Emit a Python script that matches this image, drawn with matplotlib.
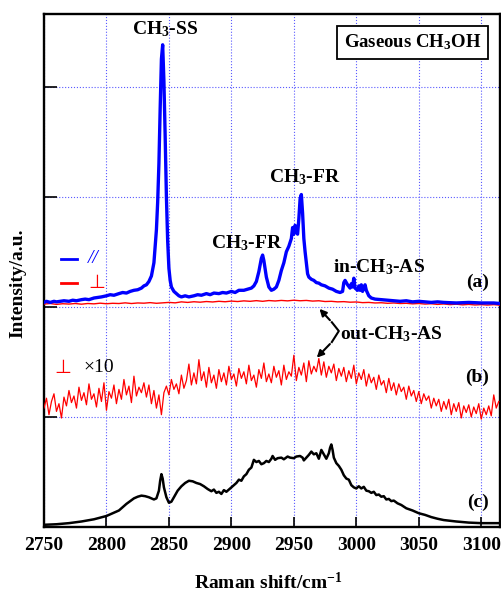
import numpy as np
import matplotlib
matplotlib.use('Agg')
import matplotlib.pyplot as plt

plt.rcParams['font.family'] = ['Liberation Serif', 'DejaVu Sans']
plt.rcParams['mathtext.fontset'] = 'custom'
plt.rcParams['mathtext.rm'] = 'Liberation Serif:bold'
plt.rcParams['mathtext.bf'] = 'Liberation Serif:bold'
plt.rcParams['mathtext.default'] = 'rm'

# (a) parallel polarisation, blue
par_x = [2750, 2752, 2755, 2758, 2760, 2763, 2766, 2770, 2773, 2776, 2780, 2783, 2786, 2790, 2793, 2796,
         2800, 2803, 2806, 2810, 2813, 2816, 2819, 2822, 2825, 2828, 2830, 2832, 2834, 2836, 2838, 2840,
         2841, 2842, 2843, 2844, 2845, 2846, 2847, 2848, 2849, 2850, 2851, 2852, 2854, 2856, 2858, 2860,
         2863, 2866, 2870, 2873, 2876, 2880, 2883, 2886, 2890, 2893, 2896, 2900, 2903, 2906, 2910, 2913,
         2916, 2918, 2920, 2922, 2924, 2925, 2926, 2928, 2930, 2932, 2934, 2936, 2938, 2940, 2942, 2944,
         2946, 2948, 2949, 2950, 2951, 2952, 2953, 2954, 2955, 2956, 2957, 2958, 2959, 2960, 2961, 2962,
         2964, 2966, 2968, 2970, 2972, 2975, 2978, 2981, 2984, 2987, 2989, 2990, 2991, 2993, 2995, 2996,
         2997, 2998, 2999, 3001, 3002, 3003, 3004, 3005, 3006, 3007, 3008, 3010, 3012, 3015, 3020, 3025,
         3030, 3035, 3040, 3045, 3050, 3055, 3060, 3065, 3070, 3080, 3090, 3100, 3110, 3115]
par_y = [2.04, 2.05, 2.04, 2.05, 2.045, 2.05, 2.055, 2.05, 2.06, 2.055, 2.065, 2.07, 2.065, 2.08, 2.085, 2.09,
         2.10, 2.11, 2.105, 2.12, 2.13, 2.125, 2.14, 2.15, 2.155, 2.17, 2.19, 2.20, 2.23, 2.28, 2.40, 2.70,
         2.95, 3.30, 3.80, 4.25, 4.38, 4.05, 3.55, 3.00, 2.60, 2.35, 2.24, 2.18, 2.14, 2.12, 2.10, 2.09,
         2.10, 2.09, 2.10, 2.11, 2.105, 2.12, 2.11, 2.125, 2.12, 2.13, 2.125, 2.14, 2.13, 2.15, 2.15, 2.16,
         2.17, 2.19, 2.23, 2.32, 2.44, 2.47, 2.42, 2.27, 2.18, 2.15, 2.16, 2.18, 2.24, 2.33, 2.40, 2.50,
         2.55, 2.62, 2.72, 2.66, 2.74, 2.68, 2.66, 2.80, 2.98, 3.02, 2.85, 2.62, 2.50, 2.40, 2.30, 2.27,
         2.25, 2.24, 2.22, 2.215, 2.20, 2.19, 2.17, 2.16, 2.14, 2.13, 2.14, 2.22, 2.24, 2.20, 2.17, 2.21,
         2.18, 2.26, 2.17, 2.15, 2.19, 2.15, 2.20, 2.14, 2.18, 2.20, 2.15, 2.10, 2.08, 2.07, 2.065, 2.06,
         2.055, 2.05, 2.055, 2.045, 2.05, 2.045, 2.04, 2.045, 2.04, 2.035, 2.04, 2.035, 2.035, 2.03]

# (a) perpendicular polarisation, red
perp_x = list(range(2750, 3116, 5))
perp_y = [2.025, 2.03, 2.022, 2.028, 2.025, 2.03, 2.024, 2.03, 2.027, 2.033, 2.028, 2.032, 2.03, 2.036,
          2.03, 2.035, 2.033, 2.038, 2.032, 2.036, 2.04, 2.036, 2.045, 2.04, 2.046, 2.042, 2.048, 2.044,
          2.05, 2.046, 2.052, 2.048, 2.054, 2.05, 2.056, 2.05, 2.057, 2.053, 2.058, 2.054, 2.06, 2.055,
          2.058, 2.052, 2.055, 2.048, 2.05, 2.045, 2.047, 2.042, 2.044, 2.038, 2.04, 2.035, 2.037, 2.032,
          2.035, 2.03, 2.032, 2.027, 2.03, 2.025, 2.028, 2.022, 2.026, 2.02, 2.024, 2.018, 2.022, 2.017,
          2.02, 2.016, 2.02, 2.015]

# (b) perpendicular x10, red
perp10_x = np.arange(2750, 3115, 2)
perp10_y = [1.08, 1.17, 1.02, 1.14, 1.21, 1.05, 1.12, 0.99, 1.18, 1.10,
            1.24, 1.13, 1.19, 1.08, 1.27, 1.15, 1.22, 1.11, 1.30, 1.16,
            1.21, 1.09, 1.26, 1.14, 1.31, 1.06, 1.23, 1.17, 1.29, 1.12,
            1.25, 1.16, 1.34, 1.20, 1.28, 1.13, 1.37, 1.19, 1.27, 1.22,
            1.31, 1.18, 1.29, 1.12, 1.24, 1.08, 1.20, 1.02, 1.22, 1.28,
            1.20, 1.34, 1.25, 1.30, 1.21, 1.38, 1.26, 1.33, 1.48, 1.29,
            1.40, 1.30, 1.52, 1.33, 1.41, 1.27, 1.45, 1.31, 1.38, 1.26,
            1.43, 1.32, 1.40, 1.29, 1.46, 1.34, 1.39, 1.28, 1.44, 1.35,
            1.41, 1.30, 1.47, 1.33, 1.38, 1.27, 1.43, 1.35, 1.49, 1.32,
            1.39, 1.31, 1.46, 1.36, 1.42, 1.29, 1.47, 1.34, 1.41, 1.37,
            1.56, 1.33, 1.45, 1.38, 1.49, 1.32, 1.51, 1.39, 1.46, 1.41,
            1.53, 1.38, 1.50, 1.36, 1.46, 1.40, 1.48, 1.33, 1.44, 1.37,
            1.45, 1.32, 1.42, 1.35, 1.47, 1.30, 1.40, 1.34, 1.43, 1.28,
            1.39, 1.31, 1.36, 1.25, 1.38, 1.29, 1.33, 1.22, 1.35, 1.24,
            1.31, 1.20, 1.30, 1.23, 1.27, 1.16, 1.28, 1.19, 1.24, 1.14,
            1.23, 1.12, 1.21, 1.15, 1.19, 1.08, 1.17, 1.10, 1.16, 1.05,
            1.14, 1.07, 1.16, 1.02, 1.12, 1.05, 1.13, 0.99, 1.10, 1.04,
            1.11, 1.00, 1.09, 1.03, 1.12, 0.98, 1.08, 1.02, 1.10, 1.01,
            1.20, 1.08, 1.14]

# (c) black spectrum
c_x = [2750, 2760, 2770, 2780, 2790, 2795, 2800, 2805, 2810, 2813, 2816, 2819, 2822, 2825, 2828, 2831,
       2834, 2836, 2838, 2840, 2842, 2843, 2844, 2845, 2846, 2848, 2850, 2852, 2854, 2857, 2860, 2863,
       2866, 2869, 2872, 2875, 2878, 2881, 2884, 2886, 2888, 2890, 2892, 2894, 2896, 2898, 2900, 2902,
       2904, 2906, 2908, 2910, 2912, 2914, 2916, 2918, 2920, 2922, 2924, 2926, 2928, 2930, 2932, 2933,
       2935, 2937, 2940, 2942, 2945, 2947, 2950, 2952, 2955, 2957, 2958, 2960, 2962, 2964, 2966, 2968,
       2970, 2972, 2974, 2976, 2978, 2979, 2980, 2981, 2982, 2984, 2986, 2988, 2990, 2992, 2994, 2996,
       2998, 3000, 3002, 3004, 3006, 3008, 3010, 3012, 3014, 3016, 3018, 3020, 3022, 3024, 3026, 3028,
       3030, 3033, 3036, 3040, 3045, 3050, 3055, 3060, 3065, 3070, 3080, 3090, 3100, 3115]
c_y = [0.02, 0.025, 0.035, 0.05, 0.07, 0.085, 0.10, 0.125, 0.15, 0.18, 0.21, 0.235, 0.26, 0.275, 0.285, 0.28,
       0.27, 0.26, 0.25, 0.26, 0.33, 0.42, 0.48, 0.44, 0.36, 0.27, 0.22, 0.23, 0.27, 0.33, 0.37, 0.40,
       0.42, 0.415, 0.40, 0.39, 0.37, 0.345, 0.325, 0.34, 0.31, 0.32, 0.30, 0.335, 0.32, 0.34, 0.36, 0.38,
       0.40, 0.43, 0.42, 0.46, 0.48, 0.52, 0.54, 0.61, 0.59, 0.60, 0.57, 0.58, 0.60, 0.59, 0.62, 0.645,
       0.61, 0.625, 0.63, 0.615, 0.64, 0.63, 0.625, 0.64, 0.645, 0.63, 0.605, 0.63, 0.655, 0.685, 0.66, 0.67,
       0.62, 0.70, 0.66, 0.62, 0.67, 0.72, 0.75, 0.70, 0.63, 0.58, 0.555, 0.52, 0.47, 0.44, 0.43, 0.38,
       0.36, 0.35, 0.37, 0.35, 0.365, 0.33, 0.325, 0.31, 0.32, 0.29, 0.295, 0.275, 0.28, 0.25, 0.255, 0.235,
       0.24, 0.215, 0.20, 0.17, 0.15, 0.125, 0.11, 0.09, 0.075, 0.063, 0.05, 0.04, 0.035, 0.035]

xticks = [2750, 2800, 2850, 2900, 2950, 3000, 3050, 3100]

fig = plt.figure(figsize=(5.02, 5.92), dpi=100)
ax = fig.add_axes([0.0876, 0.1098, 0.9084, 0.8666])

ax.plot(perp_x, perp_y, color='red', lw=1.0, zorder=3)
ax.plot(par_x, par_y, color='blue', lw=2.4, zorder=4)
ax.plot(perp10_x, perp10_y, color='red', lw=0.9, zorder=3)
ax.plot(c_x, c_y, color='black', lw=1.8, zorder=3)

ax.set_xlim(2750, 3115)
ax.set_ylim(0, 4.66)
ax.set_xticks(xticks)
ax.set_yticks([1, 2, 3, 4])
ax.set_yticklabels([])
ax.tick_params(axis='x', direction='in', length=7, width=1.2, labelsize=14, pad=7)
ax.tick_params(axis='y', direction='in', length=9, width=1.2)
for lab in ax.get_xticklabels():
    lab.set_fontweight('bold')
for s in ax.spines.values():
    s.set_linewidth(1.7)
ax.grid(True, color='#5a5aff', linestyle=':', linewidth=0.8, zorder=0)

bold = dict(fontsize=14, fontweight='bold', ha='center', va='center')
ax.text(2846.8, 4.52, 'CH$_3$-SS', **bold)
ax.text(2958.8, 3.18, 'CH$_3$-FR', **bold)
ax.text(2912.4, 2.58, 'CH$_3$-FR', **bold)
ax.text(3018, 2.36, 'in-CH$_3$-AS', **bold)
ax.text(3045, 4.40, 'Gaseous CH$_3$OH', fontsize=13.5, fontweight='bold', ha='center', va='center',
        bbox=dict(boxstyle='square,pad=0.35', fc='white', ec='black', lw=1.3))
ax.text(3097, 2.22, '(a)', **bold)
ax.text(3097, 1.355, '(b)', **bold)
ax.text(3097, 0.227, '(c)', **bold)

# legend
ax.plot([2763.6, 2776.4], [2.436, 2.436], color='blue', lw=2)
ax.text(2785, 2.436, '//', color='blue', fontsize=14, ha='left', va='center', style='italic')
ax.plot([2763.6, 2776.4], [2.218, 2.218], color='red', lw=2)
ax.text(2792.4, 2.218, '\u22a5', color='red', fontsize=14, ha='center', va='center',
        family=['DejaVu Sans'])
ax.text(2765, 1.445, '\u22a5', color='red', fontsize=14, ha='center', va='center',
        family=['DejaVu Sans'])
ax.text(2794, 1.445, '\u00d710', color='black', fontsize=14, ha='center', va='center')

# out-CH3-AS brace and arrows
ax.plot([2980.4, 2986, 2980.4], [1.86, 1.78, 1.68], color='black', lw=1.5)
ax.annotate('', xy=(2969, 2.0), xytext=(2980.4, 1.86),
            arrowprops=dict(arrowstyle='-|>', color='black', lw=1.5, mutation_scale=10))
ax.annotate('', xy=(2966.8, 1.52), xytext=(2980.4, 1.68),
            arrowprops=dict(arrowstyle='-|>', color='black', lw=1.5, mutation_scale=10))
ax.text(2987, 1.755, 'out-CH$_3$-AS', fontsize=14, fontweight='bold', ha='left', va='center')

fig.text(18 / 502, 1 - 283 / 592, 'Intensity/a.u.', rotation=90, fontsize=14, fontweight='bold',
         ha='center', va='center')
fig.text(268 / 502, 1 - 582 / 592, 'Raman shift/cm$^{-1}$', fontsize=14, fontweight='bold',
         ha='center', va='center')

fig.savefig('out.png', dpi=100)
